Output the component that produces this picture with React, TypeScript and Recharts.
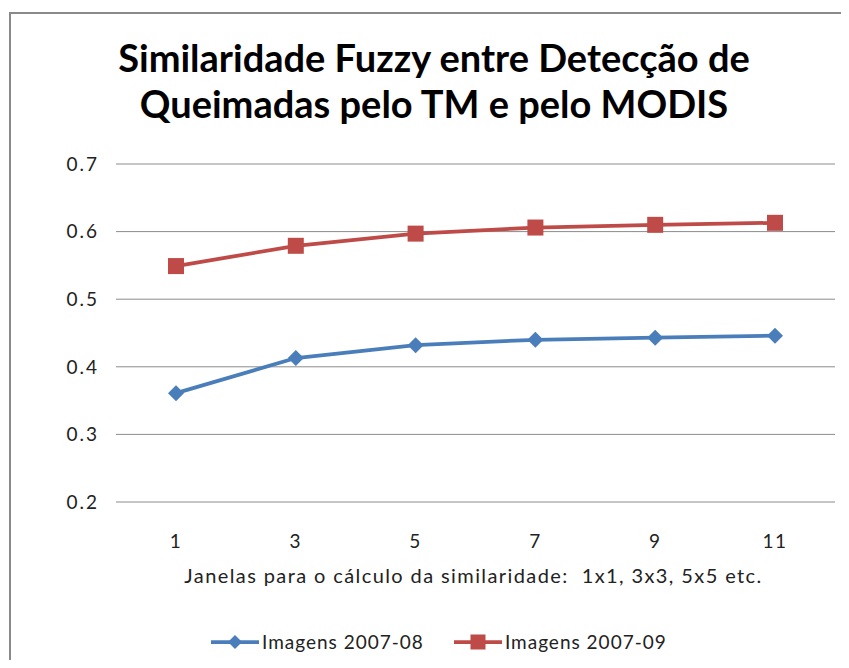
import { CartesianGrid, Line, LineChart, XAxis, YAxis } from 'recharts';

const janelas = ['1', '3', '5', '7', '9', '11'];
const imagens200708 = [0.361, 0.413, 0.432, 0.44, 0.443, 0.446];
const imagens200709 = [0.549, 0.579, 0.597, 0.606, 0.61, 0.613];
const yTicks = [0.2, 0.3, 0.4, 0.5, 0.6, 0.7];

const data = janelas.map((j, i) => ({
  janela: j,
  ago: imagens200708[i],
  set: imagens200709[i],
}));

const BLUE = '#4A7EBB';
const RED = '#BE4B48';
const FONT = 'Lato, "Open Sans", sans-serif';

const Diamond = (props: any) => {
  const { cx, cy } = props;
  if (cx == null || cy == null) return null;
  const r = 8;
  return <path d={`M${cx},${cy - r}L${cx + r},${cy}L${cx},${cy + r}L${cx - r},${cy}Z`} fill={BLUE} />;
};

const Square = (props: any) => {
  const { cx, cy } = props;
  if (cx == null || cy == null) return null;
  const r = 8;
  return <rect x={cx - r} y={cy - r} width={r * 2} height={r * 2} fill={RED} />;
};

function LegendItem({ color, marker, label }: { color: string; marker: 'diamond' | 'square'; label: string }) {
  return (
    <div style={{ display: 'flex', alignItems: 'center', marginRight: 30 }}>
      <svg width={48} height={18}>
        <line x1={0} y1={9} x2={48} y2={9} stroke={color} strokeWidth={3.75} />
        {marker === 'diamond' ? (
          <path d="M24,2L31,9L24,16L17,9Z" fill={color} />
        ) : (
          <rect x={16.5} y={1.5} width={15} height={15} fill={color} />
        )}
      </svg>
      <span style={{ marginLeft: 3 }}>{label}</span>
    </div>
  );
}

export default function App() {
  return (
    <div style={{ position: 'relative', width: 849, height: 668, overflow: 'hidden', background: '#fff', margin: -8, fontFamily: FONT }}>
      <div style={{ position: 'absolute', left: 9, top: 12, width: 860, height: 680, border: '2px solid #8a8a8a', boxSizing: 'border-box' }} />
      <div
        style={{
          position: 'absolute',
          left: 0,
          width: 868,
          top: 34,
          textAlign: 'center',
          fontSize: 38,
          fontWeight: 700,
          lineHeight: '46px',
          color: '#000',
        }}
      >
        Similaridade Fuzzy entre Detecção de
        <br />
        Queimadas pelo TM e pelo MODIS
      </div>
      <div style={{ position: 'absolute', left: 0, top: 0 }}>
        <LineChart width={849} height={668} data={data} margin={{ top: 164, right: 14, left: 56, bottom: 136 }}>
          <CartesianGrid vertical={false} stroke="#8c8c8c" strokeWidth={1} />
          <XAxis
            dataKey="janela"
            axisLine={false}
            tickLine={false}
            tickSize={0}
            tickMargin={33}
            height={30}
            padding={{ left: 60, right: 60 }}
            tick={{ fontSize: 19, fill: '#222', fontFamily: FONT, letterSpacing: 1.5 }}
          />
          <YAxis
            domain={[0.2, 0.7]}
            ticks={yTicks}
            tickFormatter={(v: number) => v.toFixed(1)}
            axisLine={false}
            tickLine={false}
            tickSize={0}
            tickMargin={17}
            width={60}
            tick={{ fontSize: 19, fill: '#222', fontFamily: FONT, letterSpacing: 2 }}
          />
          <Line dataKey="ago" name="Imagens 2007-08" stroke={BLUE} strokeWidth={3.75} dot={<Diamond />} activeDot={false} isAnimationActive={false} />
          <Line dataKey="set" name="Imagens 2007-09" stroke={RED} strokeWidth={3.75} dot={<Square />} activeDot={false} isAnimationActive={false} />
        </LineChart>
      </div>
      <div style={{ position: 'absolute', left: 0, width: 947, top: 563, textAlign: 'center', fontSize: 20, letterSpacing: 1.4, color: '#222', whiteSpace: 'nowrap' }}>
        Janelas para o cálculo da similaridade:&nbsp; 1x1, 3x3, 5x5 etc.
      </div>
      <div style={{ position: 'absolute', left: 211, top: 630, display: 'flex', fontSize: 19, letterSpacing: 1, color: '#222' }}>
        <LegendItem color={BLUE} marker="diamond" label="Imagens 2007-08" />
        <LegendItem color={RED} marker="square" label="Imagens 2007-09" />
      </div>
    </div>
  );
}
